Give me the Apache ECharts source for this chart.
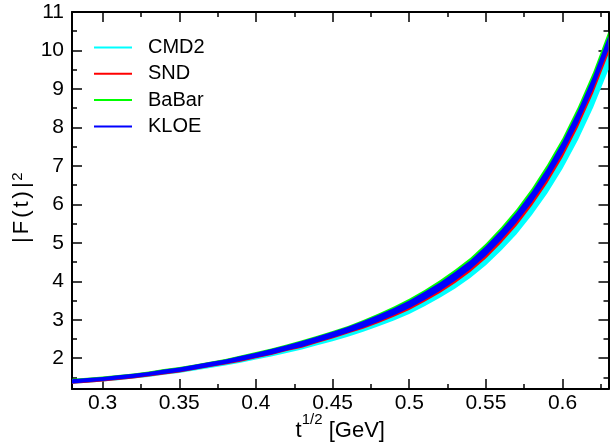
<!DOCTYPE html>
<html>
<head>
<meta charset="utf-8">
<script src="https://cdn.jsdelivr.net/npm/echarts@6/dist/echarts.min.js"></script>
<style>
  html, body { margin: 0; padding: 0; background: #fff; }
  #chart { width: 610px; height: 444px; }
</style>
</head>
<body>
<div id="chart"></div>
<script>
// Sample points along t^(1/2) in GeV
const sqrtT = [0.28, 0.29, 0.30, 0.31, 0.32, 0.33, 0.34, 0.35, 0.36, 0.37, 0.38, 0.39,
               0.40, 0.41, 0.42, 0.43, 0.44, 0.45, 0.46, 0.47, 0.48, 0.49, 0.50, 0.51,
               0.52, 0.53, 0.54, 0.55, 0.56, 0.57, 0.58, 0.59, 0.60, 0.61, 0.62, 0.63];

// Error bands of |F(t)|^2 for each experiment (lower / upper edge)
const cmd2Low = [1.335, 1.365, 1.395, 1.43, 1.47, 1.515, 1.57, 1.615, 1.68, 1.745, 1.81, 1.88,
                 1.965, 2.045, 2.135, 2.225, 2.335, 2.44, 2.56, 2.685, 2.83, 2.98, 3.15, 3.35,
                 3.57, 3.815, 4.09, 4.42, 4.80, 5.225, 5.72, 6.28, 6.925, 7.665, 8.52, 9.50];
const cmd2High = [1.428, 1.458, 1.488, 1.528, 1.568, 1.618, 1.68, 1.73, 1.80, 1.87, 1.94, 2.023,
                  2.113, 2.205, 2.305, 2.408, 2.528, 2.65, 2.78, 2.923, 3.085, 3.258, 3.45, 3.673,
                  3.915, 4.188, 4.49, 4.853, 5.265, 5.728, 6.26, 6.865, 7.548, 8.343, 9.245, 10.29];

const sndLow = [1.335, 1.365, 1.395, 1.435, 1.475, 1.525, 1.58, 1.63, 1.70, 1.77, 1.84, 1.91,
                2.00, 2.085, 2.185, 2.275, 2.395, 2.51, 2.64, 2.765, 2.915, 3.075, 3.255, 3.465,
                3.695, 3.955, 4.245, 4.595, 4.995, 5.445, 5.965, 6.55, 7.22, 7.995, 8.885, 9.91];
const sndHigh = [1.45, 1.48, 1.51, 1.55, 1.59, 1.64, 1.704, 1.754, 1.824, 1.894, 1.964, 2.049,
                 2.139, 2.233, 2.333, 2.438, 2.558, 2.682, 2.812, 2.957, 3.121, 3.296, 3.49, 3.715,
                 3.959, 4.234, 4.538, 4.903, 5.317, 5.782, 6.316, 6.925, 7.61, 8.409, 9.313, 10.362];

const babarLow = [1.373, 1.403, 1.433, 1.473, 1.513, 1.563, 1.62, 1.67, 1.74, 1.81, 1.88, 1.958,
                  2.048, 2.135, 2.235, 2.333, 2.453, 2.57, 2.70, 2.838, 2.995, 3.163, 3.35, 3.568,
                  3.805, 4.073, 4.37, 4.728, 5.135, 5.593, 6.12, 6.715, 7.393, 8.178, 9.075, 10.11];
const babarHigh = [1.465, 1.495, 1.525, 1.565, 1.605, 1.655, 1.72, 1.77, 1.84, 1.91, 1.98, 2.07,
                   2.16, 2.255, 2.355, 2.465, 2.585, 2.71, 2.84, 2.995, 3.165, 3.345, 3.545, 3.775,
                   4.025, 4.305, 4.615, 4.985, 5.405, 5.875, 6.415, 7.03, 7.72, 8.525, 9.435, 10.49];

const kloeLow = [1.345, 1.375, 1.405, 1.445, 1.485, 1.535, 1.59, 1.64, 1.71, 1.78, 1.85, 1.925,
                 2.015, 2.10, 2.20, 2.295, 2.415, 2.53, 2.66, 2.795, 2.95, 3.115, 3.30, 3.515,
                 3.75, 4.015, 4.31, 4.665, 5.07, 5.525, 6.05, 6.64, 7.315, 8.095, 8.99, 10.02];
const kloeHigh = [1.455, 1.485, 1.515, 1.555, 1.595, 1.645, 1.71, 1.76, 1.83, 1.90, 1.97, 2.055,
                  2.145, 2.24, 2.34, 2.445, 2.565, 2.69, 2.82, 2.965, 3.13, 3.305, 3.50, 3.725,
                  3.97, 4.245, 4.55, 4.915, 5.33, 5.795, 6.33, 6.94, 7.625, 8.425, 9.33, 10.38];

// Axis ranges and tick steps
const xRange = [0.28, 0.63];
const yRange = [1.2, 11];
const xMajor = 0.05, xMinor = 0.025;
const yMajor = 1, yMinor = 0.5;

const FONT = 'Liberation Sans, Arial, sans-serif';
const INK = '#000';

const bands = [
  { name: 'CMD2',  color: '#00ffff', low: cmd2Low,  high: cmd2High },
  { name: 'SND',   color: '#ff0000', low: sndLow,   high: sndHigh },
  { name: 'BaBar', color: '#00ff00', low: babarLow, high: babarHigh },
  { name: 'KLOE',  color: '#0000ff', low: kloeLow,  high: kloeHigh }
];

// One filled polygon per band: upper edge left→right, lower edge right→left
function bandSeries(b) {
  return {
    type: 'custom',
    name: b.name,
    xAxisIndex: 0,
    yAxisIndex: 0,
    clip: true,
    itemStyle: { color: b.color },
    data: sqrtT.map((x, i) => [x, b.low[i], b.high[i]]),
    encode: { x: 0, y: [1, 2] },
    renderItem: function (params, api) {
      if (params.dataIndex !== 0) return null;
      const pts = [];
      for (let i = 0; i < sqrtT.length; i++) pts.push(api.coord([sqrtT[i], b.high[i]]));
      for (let i = sqrtT.length - 1; i >= 0; i--) pts.push(api.coord([sqrtT[i], b.low[i]]));
      return {
        type: 'polygon',
        shape: { points: pts },
        style: { fill: b.color, stroke: null }
      };
    }
  };
}

function frameAxis(dim, pos, step, range, opts) {
  const base = {
    type: 'value',
    position: pos,
    min: range[0],
    max: range[1],
    minInterval: step,
    maxInterval: step,
    splitLine: { show: false },
    axisLine: { show: !!opts.line, onZero: false, lineStyle: { color: INK, width: 2 } },
    axisTick: { show: true, inside: true, length: opts.tick, lineStyle: { color: INK, width: 1.5 } },
    axisLabel: { show: false }
  };
  if (opts.labels) {
    base.axisLabel = {
      show: true,
      color: INK,
      fontFamily: FONT,
      fontSize: 21,
      margin: dim === 'x' ? 4 : 8,
      showMinLabel: false,
      showMaxLabel: dim === 'y',
      formatter: function (v) { return String(+v.toFixed(3)); }
    };
  }
  return base;
}

const xAxes = [
  Object.assign(frameAxis('x', 'bottom', xMajor, xRange, { line: true, tick: 10, labels: true }), {
    name: 't{sup|1/2} [GeV]',
    nameLocation: 'middle',
    nameGap: 23,
    nameMoveOverlap: false,
    nameTextStyle: {
      color: INK, fontFamily: FONT, fontSize: 22, lineHeight: 38,
      rich: { sup: { fontFamily: FONT, fontSize: 15, lineHeight: 14, verticalAlign: 'top', color: INK } }
    }
  }),
  frameAxis('x', 'bottom', xMinor, xRange, { line: false, tick: 5 }),
  frameAxis('x', 'top', xMajor, xRange, { line: true, tick: 10 }),
  frameAxis('x', 'top', xMinor, xRange, { line: false, tick: 5 })
];

const yAxes = [
  Object.assign(frameAxis('y', 'left', yMajor, yRange, { line: true, tick: 10, labels: true }), {
    name: '{c||}{c|F}{c|(}{c|t}{c|)}{c||}{sup|2}',
    nameLocation: 'middle',
    nameGap: 38,
    nameMoveOverlap: false,
    nameTextStyle: {
      color: INK, fontFamily: FONT, fontSize: 22, lineHeight: 24,
      padding: [0, 16, 0, 0],
      rich: {
        c: { fontFamily: FONT, fontSize: 22, lineHeight: 24, padding: [0, 1.5], color: INK },
        sup: { fontFamily: FONT, fontSize: 15, lineHeight: 14, verticalAlign: 'top', color: INK }
      }
    }
  }),
  frameAxis('y', 'left', yMinor, yRange, { line: false, tick: 5 }),
  frameAxis('y', 'right', yMajor, yRange, { line: true, tick: 10 }),
  frameAxis('y', 'right', yMinor, yRange, { line: false, tick: 5 })
];

const chart = echarts.init(document.getElementById('chart'), null, { renderer: 'canvas' });
chart.setOption({
  animation: false,
  backgroundColor: '#fff',
  grid: { left: 72, right: 1.5, top: 12, bottom: 55, containLabel: false, outerBoundsMode: 'none' },
  legend: {
    left: 94,
    top: 37.5,
    padding: 0,
    orient: 'vertical',
    icon: 'rect',
    itemWidth: 38,
    itemHeight: 2,
    itemGap: 6.3,
    selectedMode: false,
    textStyle: { color: INK, fontFamily: FONT, fontSize: 20, lineHeight: 20, padding: [0, 0, 0, 11] },
    data: bands.map(b => b.name)
  },
  xAxis: xAxes,
  yAxis: yAxes,
  series: bands.map(bandSeries)
});
</script>
</body>
</html>
